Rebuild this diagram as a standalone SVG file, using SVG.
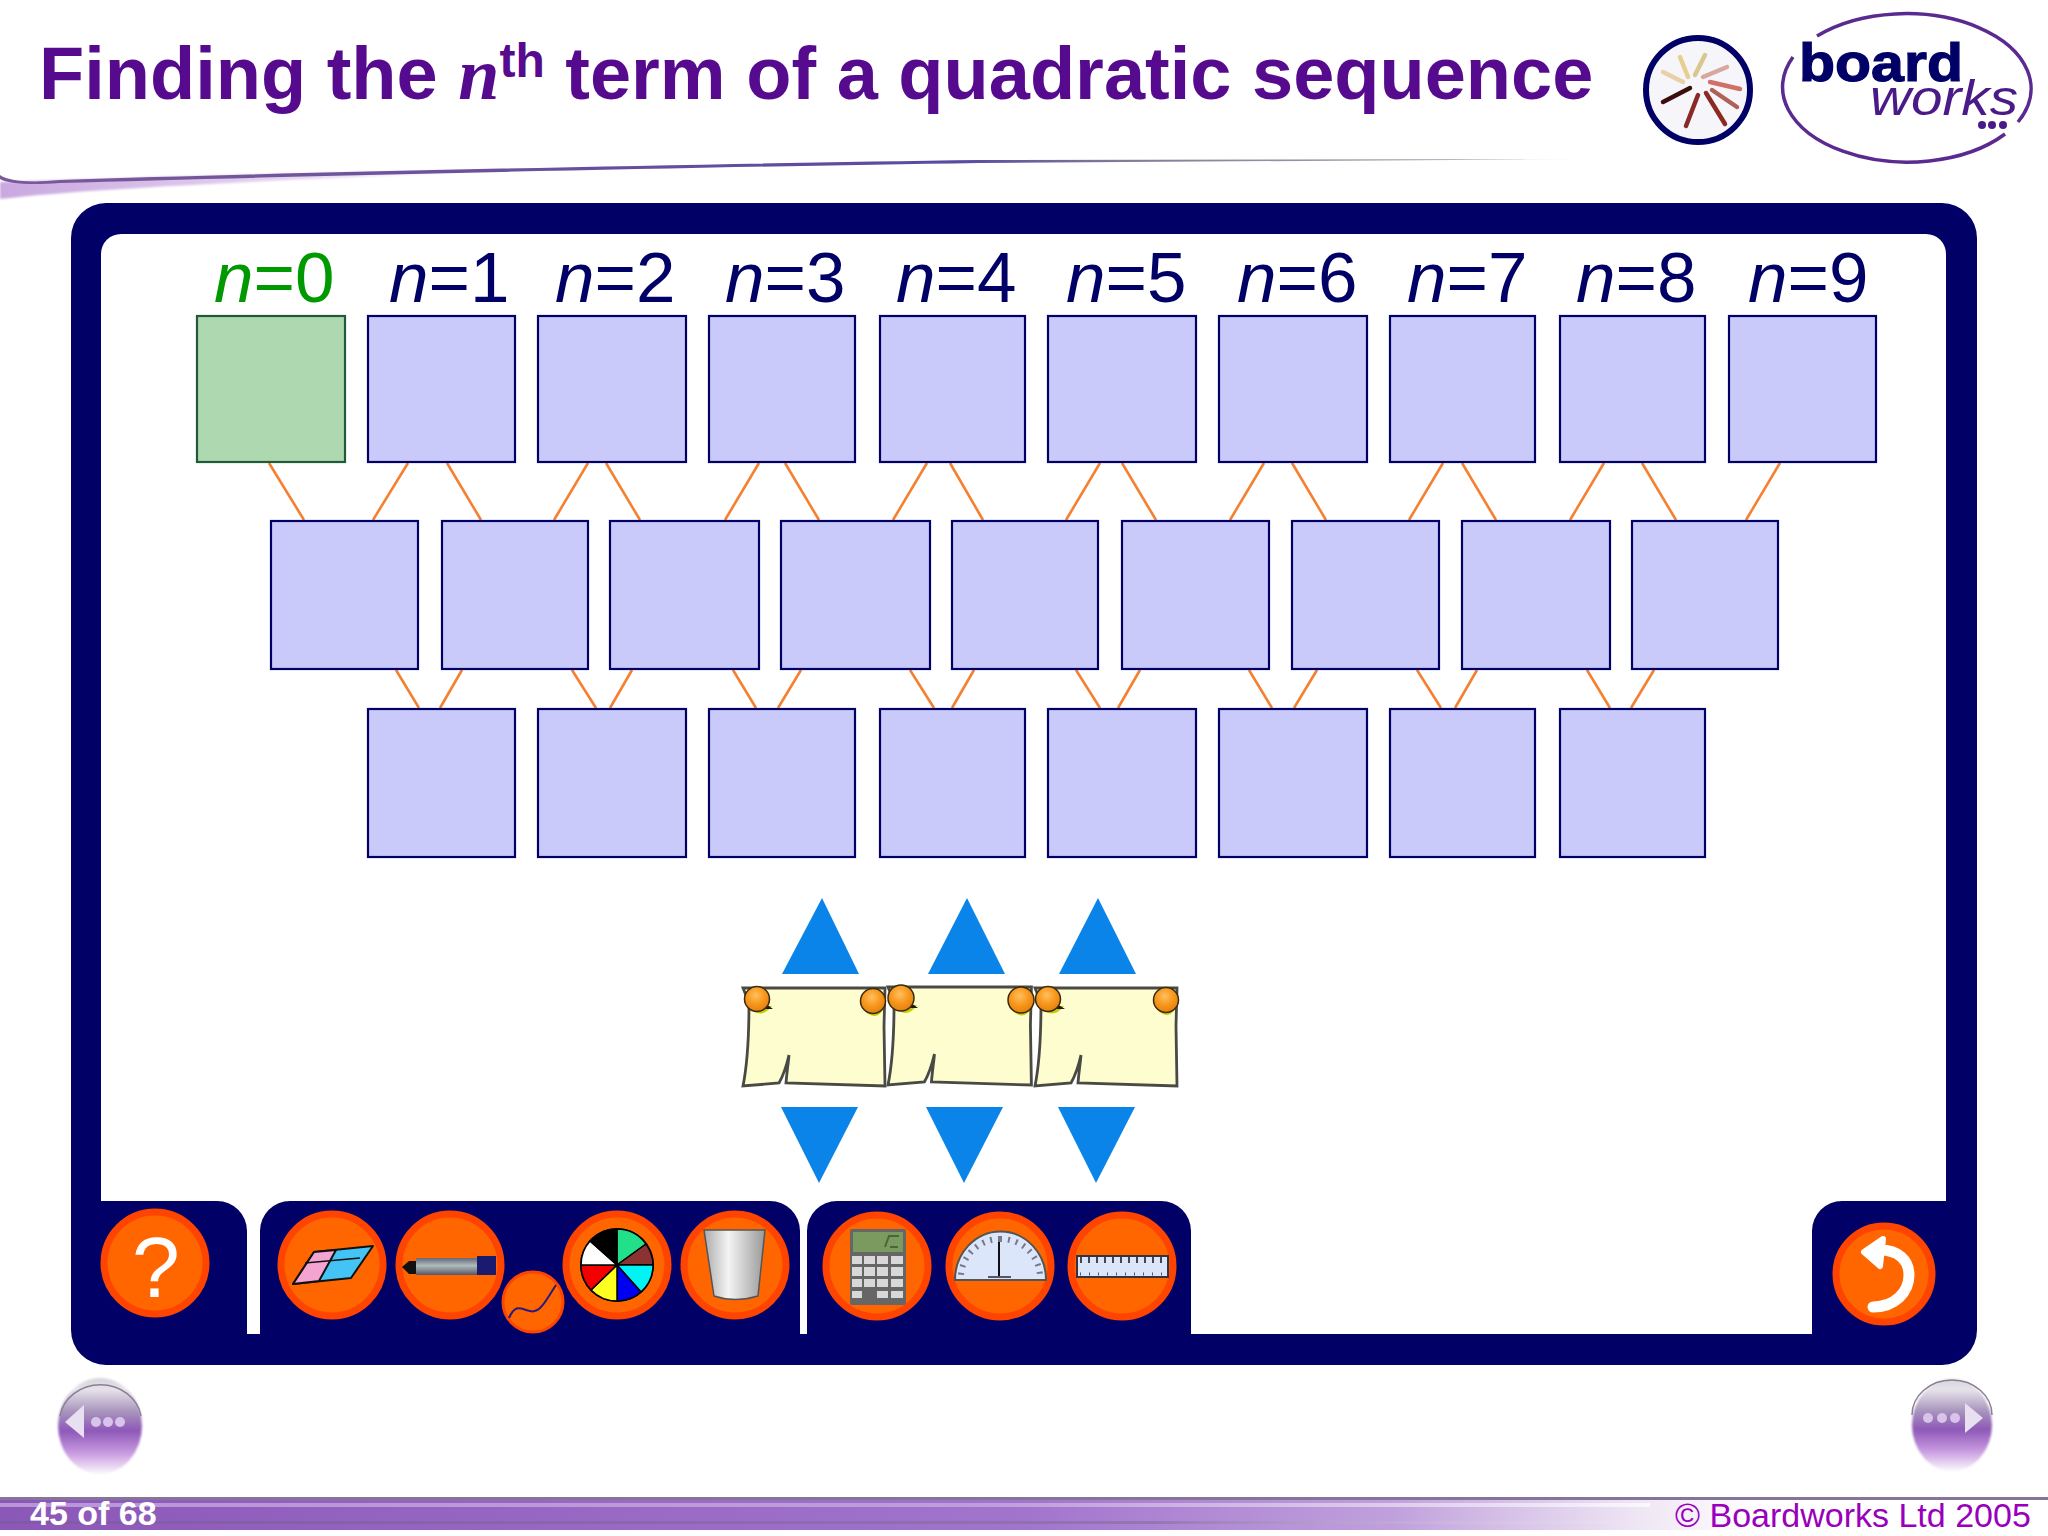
<svg xmlns="http://www.w3.org/2000/svg" width="2048" height="1536" viewBox="0 0 2048 1536">
<style>
text{font-family:"Liberation Sans",Arial,sans-serif}
.box{fill:#cacafa;stroke:#000066;stroke-width:2.2}
.start{fill:#aed8b0;stroke:#1f5a3a;stroke-width:2.2}
.lab{font-size:71px;fill:#000066}
.lab tspan{font-style:italic}
.c{stroke:#f58030;stroke-width:2.6;fill:none}
.tri{fill:#0a84e8}
.btn{fill:#ff6600;stroke:#ff4400;stroke-width:7}
.note{fill:#fdfdd0;stroke:#4a4a44;stroke-width:2.8}
.pin{fill:url(#pin);stroke:#3a2a10;stroke-width:1.5}
</style>
<defs>
<linearGradient id="bar" x1="0" x2="1" y1="0" y2="0"><stop offset="0" stop-color="#8c58b8"/><stop offset=".5" stop-color="#a274cc"/><stop offset=".68" stop-color="#c0a0dc"/><stop offset=".8" stop-color="#efe6f4"/><stop offset=".86" stop-color="#fff"/></linearGradient>
<linearGradient id="st1" x1="0" x2="1" y1="0" y2="0"><stop offset="0" stop-color="#cbb0e4"/><stop offset=".6" stop-color="#cbb0e4"/><stop offset="1" stop-color="#fff"/></linearGradient>
<linearGradient id="st2" x1="0" x2="1" y1="0" y2="0"><stop offset="0" stop-color="#7a5aa0"/><stop offset=".7" stop-color="#8a70a8"/><stop offset="1" stop-color="#fff" stop-opacity="0"/></linearGradient>
<linearGradient id="sw" x1="0" x2="1" y1="0" y2="0"><stop offset="0" stop-color="#c9a8e0"/><stop offset=".5" stop-color="#e4d2f0"/><stop offset="1" stop-color="#fff"/></linearGradient>
<linearGradient id="swl" gradientUnits="userSpaceOnUse" x1="0" x2="1600" y1="0" y2="0"><stop offset="0" stop-color="#7a5a98"/><stop offset=".6" stop-color="#5a4aa0"/><stop offset=".7" stop-color="#857a96"/><stop offset=".9" stop-color="#aaa2b2"/><stop offset="1" stop-color="#fff"/></linearGradient>
<linearGradient id="nav" x1="0" x2="0" y1="0" y2="1"><stop offset="0" stop-color="#d8d4dc"/><stop offset=".12" stop-color="#e6e2ea"/><stop offset=".35" stop-color="#a894bc"/><stop offset=".55" stop-color="#8e58b8"/><stop offset=".78" stop-color="#c89ae0"/><stop offset="1" stop-color="#fbf8fd"/></linearGradient>
<linearGradient id="bk" x1="0" x2="1" y1="0" y2="0"><stop offset="0" stop-color="#aaa"/><stop offset=".4" stop-color="#f4f4f4"/><stop offset="1" stop-color="#999"/></linearGradient>
<linearGradient id="penb" x1="0" x2="0" y1="0" y2="1"><stop offset="0" stop-color="#667"/><stop offset=".45" stop-color="#b0bcbc"/><stop offset="1" stop-color="#556"/></linearGradient>
<radialGradient id="pin" cx=".45" cy=".35" r=".7"><stop offset="0" stop-color="#ffc060"/><stop offset=".5" stop-color="#f8981c"/><stop offset="1" stop-color="#e07c10"/></radialGradient>
<filter id="soft" x="-10%" y="-10%" width="120%" height="120%"><feGaussianBlur stdDeviation="1.2"/></filter>
<filter id="soft2" x="-10%" y="-10%" width="120%" height="120%"><feGaussianBlur stdDeviation=".7"/></filter>
<g id="note"><path class="note" d="M0,2 L142,2 L141,40 L142,100 L43,97 C44,85 45,80 46,69 C43,82 40,90 36,97 L0,100 C4,80 6,50 6,17 Z"/></g>
</defs>
<rect width="2048" height="1536" fill="#fff"/>

<g id="header">
<text x="39" y="99" font-size="74" font-weight="bold" fill="#560a8e">Finding the <tspan font-family="Liberation Serif" font-style="italic">n</tspan><tspan font-size="48" dy="-22">th</tspan><tspan dy="22"> term of a quadratic sequence</tspan></text>
<path d="M0,182 C120,178 300,172 560,168 C300,180 120,186 0,199 Z" fill="url(#sw)" filter="url(#soft)"/>
<path d="M0,175 C8,181 30,183 60,180 C300,172 700,164 979,160 L1600,159 L979,163 C700,167 300,176 60,183 C30,185 8,184 0,179 Z" fill="url(#swl)" filter="url(#soft2)"/>
</g>

<g id="logo-circle">
<circle cx="1698" cy="90" r="52" fill="#f6f6fa" stroke="#000066" stroke-width="6"/>
<g fill="none" stroke-linecap="round" stroke-width="4.5" filter="url(#soft2)">
<path d="M1680,57 L1688,77" stroke="#e6cf90"/><path d="M1705,55 L1695,75" stroke="#d8c890"/><path d="M1663,72 L1683,82" stroke="#e8d0a8"/><path d="M1727,67 L1703,77" stroke="#d8a8a0"/>
<path d="M1710,82 L1740,89" stroke="#d07068"/><path d="M1712,90 L1737,107" stroke="#b06058"/><path d="M1706,93 L1725,124" stroke="#8a2a20"/><path d="M1698,95 L1686,126" stroke="#8a2a28"/><path d="M1690,88 L1663,102" stroke="#3a0a08"/>
</g>
</g>
<g id="logo-boardworks">
<path d="M1817,36 A125,75 0 0 1 2018,122 M2005,134 A125,75 0 0 1 1793,57" fill="none" stroke="#5a2a90" stroke-width="3.5"/>
<text x="1799" y="81" font-size="54" font-weight="bold" fill="#000066" stroke="#000066" stroke-width="1.2" textLength="164" lengthAdjust="spacingAndGlyphs">board</text>
<text x="1870" y="115" font-size="50" font-style="italic" fill="#4a1a88" textLength="148" lengthAdjust="spacingAndGlyphs">works</text>
<g fill="#4a1a88"><circle cx="1982" cy="125" r="4"/><circle cx="1992" cy="125" r="4"/><circle cx="2003" cy="125" r="4"/></g>
</g>

<g id="frame">
<path fill="#000066" fill-rule="evenodd" d="M106,203 H1942 A35,35 0 0 1 1977,238 V1330 A35,35 0 0 1 1942,1365 H106 A35,35 0 0 1 71,1330 V238 A35,35 0 0 1 106,203 Z
M121,234 A20,20 0 0 0 101,254 V1201 H217 A30,30 0 0 1 247,1231 V1334 H260 V1231 A30,30 0 0 1 290,1201 H770 A30,30 0 0 1 800,1231 V1334 H807 V1231 A30,30 0 0 1 837,1201 H1161 A30,30 0 0 1 1191,1231 V1334 H1812 V1231 A30,30 0 0 1 1842,1201 H1946 V254 A20,20 0 0 0 1926,234 Z"/>
</g>

<g id="connectors">
<path class="c" d="M269,463L304,520M408,463L373,520M447,463L481,520M588,463L554,520M606,463L640,520M759,463L725,520M785,463L819,520M927,463L893,520M950,463L983,520M1100,463L1066,520M1122,463L1156,520M1264,463L1230,520M1292,463L1326,520M1443,463L1409,520M1462,463L1496,520M1604,463L1570,520M1642,463L1676,520M1780,463L1746,520"/>
<path class="c" d="M396,670L419,708M462,670L440,708M572,670L596,708M632,670L610,708M733,670L756,708M801,670L778,708M910,670L934,708M974,670L952,708M1076,670L1100,708M1140,670L1118,708M1249,670L1272,708M1317,670L1294,708M1417,670L1441,708M1477,670L1455,708M1587,670L1610,708M1654,670L1631,708"/>
</g>

<g id="labels">
<text class="lab" x="214" y="302" style="fill:#009a00"><tspan>n</tspan>=0</text>
<text class="lab" x="389" y="302"><tspan>n</tspan>=1</text>
<text class="lab" x="555" y="302"><tspan>n</tspan>=2</text>
<text class="lab" x="725" y="302"><tspan>n</tspan>=3</text>
<text class="lab" x="896" y="302"><tspan>n</tspan>=4</text>
<text class="lab" x="1066" y="302"><tspan>n</tspan>=5</text>
<text class="lab" x="1237" y="302"><tspan>n</tspan>=6</text>
<text class="lab" x="1407" y="302"><tspan>n</tspan>=7</text>
<text class="lab" x="1576" y="302"><tspan>n</tspan>=8</text>
<text class="lab" x="1748" y="302"><tspan>n</tspan>=9</text>
</g>

<g id="row1">
<g id="t0"><rect class="start" x="197" y="316" width="148" height="146"/></g>
<g id="t1"><rect class="box" x="368" y="316" width="147" height="146"/></g>
<g id="t2"><rect class="box" x="538" y="316" width="148" height="146"/></g>
<g id="t3"><rect class="box" x="709" y="316" width="146" height="146"/></g>
<g id="t4"><rect class="box" x="880" y="316" width="145" height="146"/></g>
<g id="t5"><rect class="box" x="1048" y="316" width="148" height="146"/></g>
<g id="t6"><rect class="box" x="1219" y="316" width="148" height="146"/></g>
<g id="t7"><rect class="box" x="1390" y="316" width="145" height="146"/></g>
<g id="t8"><rect class="box" x="1560" y="316" width="145" height="146"/></g>
<g id="t9"><rect class="box" x="1729" y="316" width="147" height="146"/></g>
</g>
<g id="row2">
<g id="m0"><rect class="box" x="271" y="521" width="147" height="148"/></g>
<g id="m1"><rect class="box" x="442" y="521" width="146" height="148"/></g>
<g id="m2"><rect class="box" x="610" y="521" width="149" height="148"/></g>
<g id="m3"><rect class="box" x="781" y="521" width="149" height="148"/></g>
<g id="m4"><rect class="box" x="952" y="521" width="146" height="148"/></g>
<g id="m5"><rect class="box" x="1122" y="521" width="147" height="148"/></g>
<g id="m6"><rect class="box" x="1292" y="521" width="147" height="148"/></g>
<g id="m7"><rect class="box" x="1462" y="521" width="148" height="148"/></g>
<g id="m8"><rect class="box" x="1632" y="521" width="146" height="148"/></g>
</g>
<g id="row3">
<g id="b0"><rect class="box" x="368" y="709" width="147" height="148"/></g>
<g id="b1"><rect class="box" x="538" y="709" width="148" height="148"/></g>
<g id="b2"><rect class="box" x="709" y="709" width="146" height="148"/></g>
<g id="b3"><rect class="box" x="880" y="709" width="145" height="148"/></g>
<g id="b4"><rect class="box" x="1048" y="709" width="148" height="148"/></g>
<g id="b5"><rect class="box" x="1219" y="709" width="148" height="148"/></g>
<g id="b6"><rect class="box" x="1390" y="709" width="145" height="148"/></g>
<g id="b7"><rect class="box" x="1560" y="709" width="145" height="148"/></g>
</g>

<g id="steppers">
<polygon class="tri" points="822,898 782,974 859,974"/>
<polygon class="tri" points="967,898 928,974 1005,974"/>
<polygon class="tri" points="1098,898 1059,974 1136,974"/>
<polygon class="tri" points="781,1107 858,1107 819,1183"/>
<polygon class="tri" points="926,1107 1003,1107 964,1183"/>
<polygon class="tri" points="1058,1107 1135,1107 1096,1183"/>
</g>

<g id="notes">
<use href="#note" x="743" y="986"/>
<use href="#note" transform="translate(888,985) scale(1.01,1)"/>
<use href="#note" x="1035" y="986"/>
<g fill="#c8cc00">
<path d="M748,1006 Q760,1021 772,1006 Z"/><path d="M862,1008 Q876,1024 884,1008 Z"/><path d="M893,1005 Q906,1021 917,1005 Z"/><path d="M1009,1007 Q1023,1024 1032,1007 Z"/><path d="M1040,1006 Q1052,1021 1064,1006 Z"/><path d="M1155,1007 Q1168,1023 1176,1007 Z"/>
</g>
<g fill="#221a08"><path d="M766,1004 L773,1009 L764,1009 Z"/><path d="M911,1003 L918,1008 L909,1008 Z"/><path d="M1057,1004 L1065,1009 L1055,1009 Z"/></g>
<circle class="pin" cx="757" cy="999" r="12.5"/><circle class="pin" cx="873" cy="1001" r="12.5"/><circle class="pin" cx="901" cy="998" r="13"/><circle class="pin" cx="1021" cy="1000" r="13"/><circle class="pin" cx="1048" cy="999" r="12.5"/><circle class="pin" cx="1166" cy="1000" r="12.5"/>
</g>

<g id="btn-help">
<circle class="btn" cx="155" cy="1263" r="51"/>
<text x="156" y="1297" font-size="86" fill="#fff" text-anchor="middle">?</text>
</g>
<g id="btn-eraser">
<circle class="btn" cx="332" cy="1265" r="51"/>
<path d="M293,1284 L314,1252 L373,1246 L351,1278 Z" fill="#44c4f4" stroke="#111" stroke-width="2" stroke-linejoin="round"/>
<path d="M293,1284 L314,1252 L336,1250 L319,1281 Z" fill="#f4a4d0" stroke="#111" stroke-width="2" stroke-linejoin="round"/>
<path d="M305,1263 L360,1258" stroke="#111" stroke-width="1.5" fill="none"/>
</g>
<g id="btn-pen">
<circle class="btn" cx="450" cy="1265" r="51"/>
<path d="M402,1267 L409,1261 H417 V1274 H409 Z" fill="#111"/>
<rect x="416" y="1258" width="61" height="17" fill="url(#penb)"/>
<rect x="477" y="1256" width="19" height="19" fill="#1a1a70"/>
</g>
<g id="btn-line">
<circle cx="533" cy="1302" r="30" fill="#ff6600" stroke="#ff4400" stroke-width="3"/>
<path d="M509,1318 C516,1302 522,1310 530,1311 C540,1314 546,1300 556,1285" fill="none" stroke="#2a1a80" stroke-width="2"/>
</g>
<g id="btn-colour">
<circle class="btn" cx="617" cy="1265" r="51"/>
<circle cx="617" cy="1265" r="37" fill="#000"/>
<g stroke="#000" stroke-width="1.5">
<path d="M617,1265 L617,1229 A36,36 0 0 1 646,1244 Z" fill="#22e08a"/>
<path d="M617,1265 L646,1244 A36,36 0 0 1 653,1265 Z" fill="#8b3232"/>
<path d="M617,1265 H653 A36,36 0 0 1 641,1292 Z" fill="#00f4f4"/>
<path d="M617,1265 L641,1292 A36,36 0 0 1 617,1301 Z" fill="#0000f0"/>
<path d="M617,1265 V1301 A36,36 0 0 1 591,1290 Z" fill="#ffff20"/>
<path d="M617,1265 L591,1290 A36,36 0 0 1 581,1265 Z" fill="#f40000"/>
<path d="M617,1265 H581 A36,36 0 0 1 590,1241 Z" fill="#fff"/>
<path d="M617,1265 L590,1241 A36,36 0 0 1 617,1229 Z" fill="#000"/>
</g>
</g>
<g id="btn-bin">
<circle class="btn" cx="735" cy="1265" r="51"/>
<path d="M704,1230 H765 L758,1296 Q735,1303 714,1296 Z" fill="url(#bk)" stroke="#555" stroke-width="1.5"/>
</g>
<g id="btn-calc">
<circle class="btn" cx="877" cy="1266" r="51"/>
<rect x="850" y="1229" width="56" height="76" rx="2" fill="#666"/>
<rect x="853" y="1232" width="50" height="20" fill="#7a9a60"/>
<path d="M885,1247 L889,1236 H899 M890,1247 H898" stroke="#3a5a30" stroke-width="2" fill="none" opacity=".8"/>
<g fill="#d8d8d8"><rect x="852" y="1256" width="10" height="8"/><rect x="864" y="1256" width="11" height="8"/><rect x="877" y="1256" width="11" height="8"/><rect x="891" y="1256" width="12" height="8"/><rect x="852" y="1267" width="10" height="9"/><rect x="864" y="1267" width="11" height="9"/><rect x="877" y="1267" width="11" height="9"/><rect x="891" y="1267" width="12" height="9"/><rect x="852" y="1279" width="10" height="8"/><rect x="864" y="1279" width="11" height="8"/><rect x="877" y="1279" width="11" height="8"/><rect x="891" y="1279" width="12" height="8"/><rect x="852" y="1291" width="10" height="7"/><rect x="877" y="1291" width="11" height="7"/><rect x="891" y="1291" width="12" height="7"/></g>
</g>
<g id="btn-protractor">
<circle class="btn" cx="1000" cy="1266" r="51"/>
<path d="M955,1280 A45,48 0 0 1 1046,1280 Z" fill="#dce6fa" stroke="#555" stroke-width="2"/>
<path d="M999,1240 V1277" stroke="#111" stroke-width="2" fill="none"/>
<path d="M988,1277 H1011" stroke="#556" stroke-width="2" fill="none"/>
<path d="M1000,1239 A39,39 0 0 1 1040,1275 M1000,1239 A39,39 0 0 0 961,1275" fill="none" stroke="#778" stroke-width="6" stroke-dasharray="2 6"/>
</g>
<g id="btn-ruler">
<circle class="btn" cx="1122" cy="1266" r="51"/>
<rect x="1077" y="1256" width="91" height="21" fill="#dce6fa" stroke="#334" stroke-width="2"/>
<path d="M1080,1260 H1166" stroke="#445" stroke-width="6" stroke-dasharray="2 6" fill="none"/>
<path d="M1080,1274 H1166" stroke="#556" stroke-width="3" stroke-dasharray="1 8" fill="none"/>
</g>
<g id="btn-undo">
<circle class="btn" cx="1884" cy="1274" r="48"/>
<path d="M1873,1307 C1895,1307 1909,1292 1909,1275 C1909,1260 1898,1250 1880,1250" fill="none" stroke="#fff" stroke-width="11" stroke-linecap="round"/>
<path d="M1883,1239 L1864,1252 L1880,1266 Z" fill="#fff" stroke="#fff" stroke-width="6" stroke-linejoin="round"/>
</g>

<g id="nav-prev">
<ellipse cx="100" cy="1426" rx="42" ry="48" fill="url(#nav)" filter="url(#soft)"/>
<path d="M60,1416 A41,37 0 0 1 141,1416" fill="none" stroke="#8a8094" stroke-width="1.5" filter="url(#soft2)"/>
<path d="M65,1422 L84,1405 V1438 Z" fill="#e8e0f0" filter="url(#soft2)"/>
<g fill="#d8c4ea" filter="url(#soft2)"><circle cx="96" cy="1422" r="5"/><circle cx="108" cy="1422" r="5"/><circle cx="120" cy="1422" r="5"/></g>
</g>
<g id="nav-next">
<ellipse cx="1952" cy="1425" rx="40" ry="46" fill="url(#nav)" filter="url(#soft)"/>
<path d="M1912,1415 A40,35 0 0 1 1992,1415" fill="none" stroke="#8a8094" stroke-width="1.5" filter="url(#soft2)"/>
<path d="M1983,1418 L1965,1403 V1433 Z" fill="#e8e0f0" filter="url(#soft2)"/>
<g fill="#d8c4ea" filter="url(#soft2)"><circle cx="1928" cy="1418" r="5"/><circle cx="1942" cy="1418" r="5"/><circle cx="1955" cy="1418" r="5"/></g>
</g>

<g id="footer">
<rect x="0" y="1500" width="2048" height="30" fill="url(#bar)"/>
<rect x="0" y="1497" width="2048" height="3" fill="#85759a"/>
<rect x="0" y="1503" width="1650" height="4" fill="url(#st1)" opacity=".7"/>
<rect x="0" y="1521" width="1650" height="3" fill="url(#st2)" opacity=".7"/>
<text x="30" y="1525" font-size="34" font-weight="bold" fill="#fff">45 of 68</text>
<text x="1675" y="1527" font-size="34" fill="#9900bb">© Boardworks Ltd 2005</text>
</g>
</svg>
